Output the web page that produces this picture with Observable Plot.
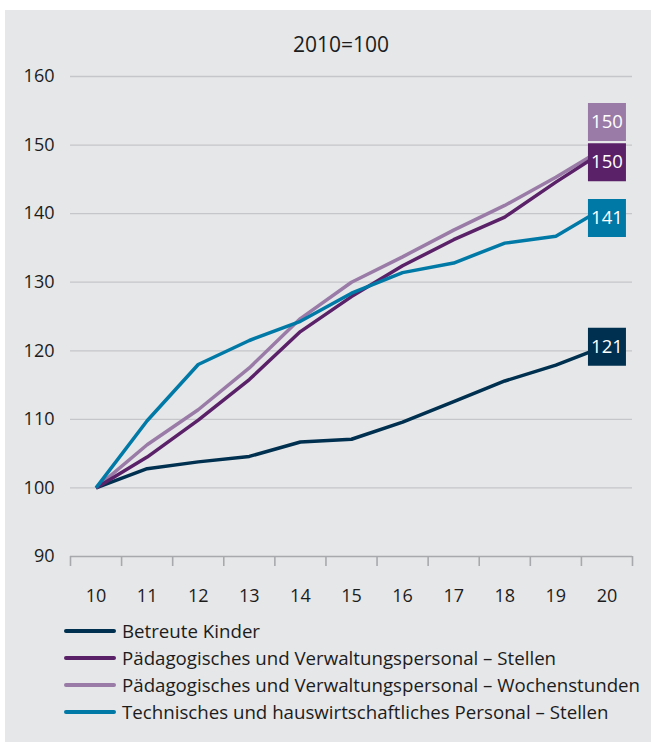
<!DOCTYPE html>
<html>
<head>
<meta charset="utf-8">
<script src="https://cdn.jsdelivr.net/npm/d3@7"></script>
<script src="https://cdn.jsdelivr.net/npm/@observablehq/plot@0.6"></script>
<style>
  html, body { margin: 0; padding: 0; background: #ffffff; }
  body { width: 651px; height: 742px; position: relative; overflow: hidden; font-family: "Open Sans", sans-serif; color: #1c1c1c; }
  #fig { position: absolute; left: 5px; top: 10px; width: 646px; height: 732px; background: #e6e7e9; }
  #title { position: absolute; left: 0; width: 672px; top: 20px; text-align: center; font-size: 21px; line-height: 28px; }
  #chart { position: absolute; left: 0; top: 50px; }
  #legend { position: absolute; left: 59px; top: 607px; font-size: 18.7px; line-height: 27px; }
  .row { display: flex; align-items: center; height: 27px; white-space: nowrap; }
  .sw { width: 52px; height: 4px; border-radius: 2px; margin-right: 6px; }
</style>
</head>
<body>
<div id="fig">
  <div id="title">2010=100</div>
  <div id="chart"></div>
  <div id="legend"></div>
</div>
<script>
// ---- data ----
const years = [10, 11, 12, 13, 14, 15, 16, 17, 18, 19, 20];
const betreuteKinder      = [100, 102.8, 103.8, 104.6, 106.7, 107.1, 109.6, 112.6, 115.6, 117.9, 120.8];
const paedStellen         = [100, 104.5, 109.9, 115.8, 122.8, 127.9, 132.4, 136.2, 139.5, 144.6, 149.4];
const paedWochenstunden   = [100, 106.3, 111.4, 117.5, 124.7, 130.0, 133.7, 137.6, 141.2, 145.3, 149.8];
const technischStellen    = [100, 109.8, 118.0, 121.5, 124.3, 128.4, 131.4, 132.8, 135.7, 136.7, 141.1];
const seriesNames = [
  "Betreute Kinder",
  "Pädagogisches und Verwaltungspersonal – Stellen",
  "Pädagogisches und Verwaltungspersonal – Wochenstunden",
  "Technisches und hauswirtschaftliches Personal – Stellen"
];
const endLabels = ["121", "150", "150", "141"];
const yTicks = [90, 100, 110, 120, 130, 140, 150, 160];
const gridTicks = [100, 110, 120, 130, 140, 150, 160];
const title = "2010=100";

// ---- styles ----
const colors = ["#00304f", "#5a2168", "#9a7ba7", "#0079a7"];
const labelDy = [1.5, 13, -24.5, 12];
const drawOrder = [0, 2, 1, 3];

const valuesBySeries = [betreuteKinder, paedStellen, paedWochenstunden, technischStellen];
const rows = [];
valuesBySeries.forEach((vals, s) => vals.forEach((v, i) => rows.push({series: s, name: seriesNames[s], year: years[i], value: v})));

const bandEdges = years.map(y => y - 0.5).concat([years[years.length - 1] + 0.5]);

const marks = [
  Plot.ruleY(gridTicks, {stroke: "#c5c6c9", strokeWidth: 1.3}),
  Plot.ruleY([yTicks[0]], {stroke: "#a8a9ac", strokeWidth: 1.6}),
  Plot.axisX({ticks: bandEdges, tickSize: 10, tickFormat: () => "", label: null, stroke: "#a8a9ac", strokeWidth: 1.6, strokeOpacity: 1}),
  Plot.axisX({ticks: years, tickSize: 0, tickPadding: 33, label: null, tickFormat: d => String(d), fontSize: 18, fill: "#1c1c1c"}),
  Plot.axisY({ticks: yTicks, tickSize: 0, tickPadding: 16, label: null, tickFormat: d => String(d), fontSize: 18, fill: "#1c1c1c"})
];
for (const s of drawOrder) {
  marks.push(Plot.line(rows.filter(d => d.series === s), {x: "year", y: "value", stroke: colors[s], strokeWidth: 3.5, strokeLinejoin: "miter", strokeLinecap: "butt"}));
}
for (const s of drawOrder) {
  const last = rows.filter(d => d.series === s).at(-1);
  marks.push(Plot.dot([last], {x: "year", y: "value", symbol: "square", r: 38 / Math.sqrt(Math.PI), fill: colors[s], stroke: "none", dy: labelDy[s]}));
  marks.push(Plot.text([last], {x: "year", y: "value", text: () => endLabels[s], fill: "white", fontSize: 18.5, dy: labelDy[s]}));
}

const chart = Plot.plot({
  width: 646,
  height: 550,
  marginLeft: 65,
  marginRight: 19,
  marginTop: 16,
  marginBottom: 54,
  style: {background: "transparent", fontFamily: "Open Sans, sans-serif", fontSize: "18px", color: "#1c1c1c", overflow: "visible"},
  x: {type: "linear", domain: [bandEdges[0], bandEdges[bandEdges.length - 1]], axis: null, label: null},
  y: {type: "linear", domain: [yTicks[0], yTicks[yTicks.length - 1]], axis: null, label: null},
  marks
});
document.getElementById("chart").appendChild(chart);
document.getElementById("title").textContent = title;

const legend = document.getElementById("legend");
seriesNames.forEach((n, s) => {
  const row = document.createElement("div");
  row.className = "row";
  const sw = document.createElement("span");
  sw.className = "sw";
  sw.style.background = colors[s];
  const t = document.createElement("span");
  t.textContent = n;
  row.appendChild(sw);
  row.appendChild(t);
  legend.appendChild(row);
});
</script>
</body>
</html>
